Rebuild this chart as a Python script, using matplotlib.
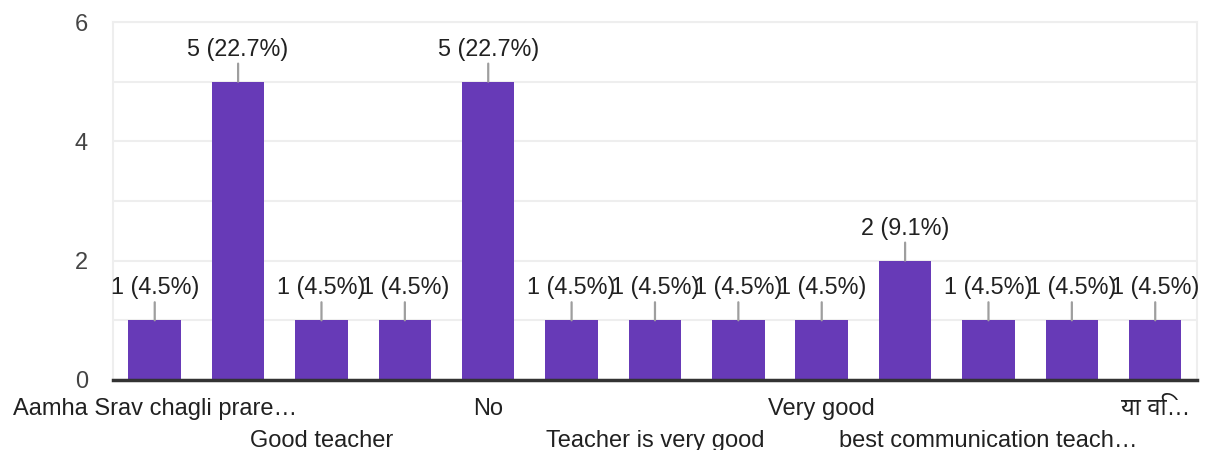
import matplotlib.pyplot as plt
from matplotlib.ticker import MultipleLocator

plt.rcParams['font.family'] = ['Liberation Sans', 'Noto Sans', 'DejaVu Sans']

# Data
labels = ["Aamha Srav chagli prare…", "", "Good teacher", "", "No", "",
          "Teacher is very good", "", "Very good", "", "best communication teach…", "",
          "या वि…"]
counts = [1, 5, 1, 1, 5, 1, 1, 1, 1, 2, 1, 1, 1]
total = 22

bar_color = "#673ab7"
text_color = "#212121"

fig = plt.figure(figsize=(12.09, 4.5), dpi=100)
ax = fig.add_axes([0.0935, 0.1556, 0.8965, 0.7955])

x = list(range(len(counts)))
ax.bar(x, counts, width=0.63, color=bar_color, zorder=3)

# value labels with short leader lines
for xi, c in zip(x, counts):
    ax.annotate(f"{c} ({c / total * 100:.1f}%)", xy=(xi, c), xytext=(0, 15),
                textcoords="offset points", ha="center", va="bottom",
                fontsize=16.8, color=text_color, zorder=5,
                arrowprops=dict(arrowstyle="-", color="#9e9e9e", lw=1.6,
                                shrinkA=0, shrinkB=0))

ax.set_xlim(-0.5, len(counts) - 0.5)
ax.set_ylim(0, 6)
ax.yaxis.set_major_locator(MultipleLocator(2))
ax.yaxis.set_minor_locator(MultipleLocator(1))
ax.grid(axis="y", which="both", color="#eeeeee", lw=1.5, zorder=0)
ax.tick_params(axis="y", which="both", length=0, labelsize=17, colors="#444444", pad=18)

# x labels in two staggered rows
ax.set_xticks(x)
ax.set_xticklabels([])
ax.tick_params(axis="x", length=0)
for xi, lab in zip(x, labels):
    if not lab:
        continue
    row = (xi // 2) % 2
    ax.annotate(lab, xy=(xi, 0), xycoords=("data", "axes fraction"),
                xytext=(0, -13 - row * 23), textcoords="offset points",
                ha="center", va="top", fontsize=17, color=text_color,
                annotation_clip=False)

for side in ("left", "right", "top"):
    ax.spines[side].set_color("#eeeeee")
    ax.spines[side].set_linewidth(1.5)
ax.spines["bottom"].set_color("#333333")
ax.spines["bottom"].set_linewidth(2.5)
ax.spines["bottom"].set_zorder(4)

fig.savefig("out.png", dpi=100)
